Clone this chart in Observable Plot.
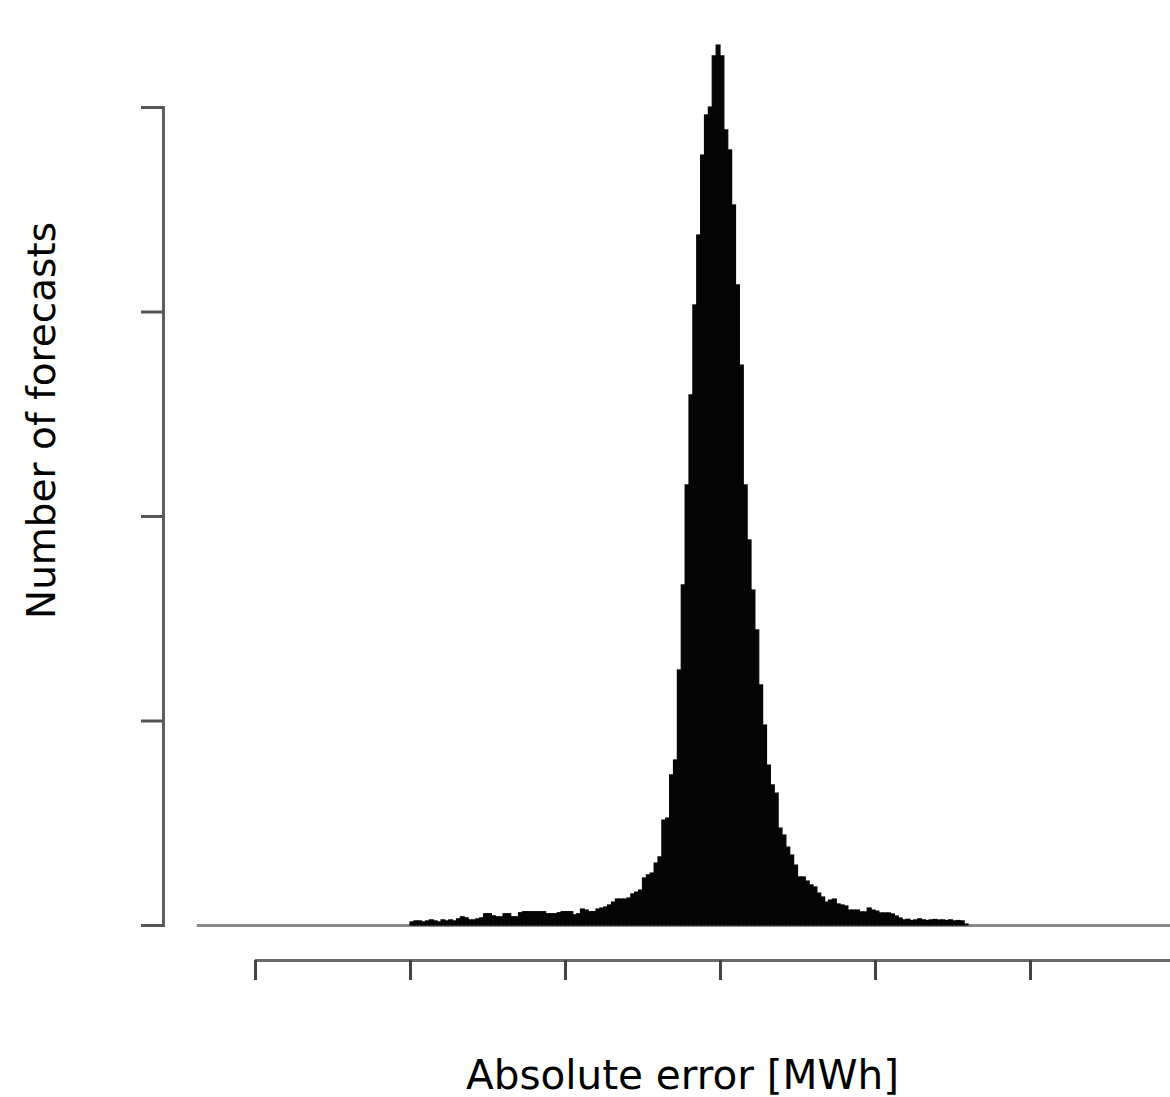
<!DOCTYPE html>
<html><head><meta charset="utf-8">
<script src="https://cdn.jsdelivr.net/npm/d3@7"></script>
<script src="https://cdn.jsdelivr.net/npm/@observablehq/plot@0.6"></script>
<style>body{margin:0;overflow:hidden;background:#fff}</style>
</head><body><div id="chart"></div>
<script>
// Histogram of forecast errors (bins of equal width)
const binStart = -2.0;
const binWidth = 0.025;
const counts = [
  15,20,20,15,20,25,20,15,25,20,25,20,30,
  40,35,25,25,30,35,55,55,45,40,40,55,55,40,40,
  60,65,65,65,65,65,65,55,55,55,60,65,65,65,50,55,
  78,73,65,65,78,83,88,98,112,127,127,127,132,152,161,171,
  230,245,254,303,333,513,523,734,807,
  1247,1663,2152,2592,3032,3374,3765,3961,4000,4250,4303,4250,
  3888,3790,3521,3130,2738,2152,1883,1638,1443,1174,978,782,685,645,
  474,440,381,342,293,235,235,215,196,186,156,137,112,122,127,103,98,93,
  73,73,73,64,64,83,73,68,59,59,59,54,44,34,
  25,28,22,25,30,25,22,25,27,24,25,22,25,20,22,
  20,5
];
const histRange = [-3.375, 3.0];
const xTicks = [-3, -2, -1, 0, 1, 2, 3];
const yTicks = [0, 1000, 2000, 3000, 4000];
const xLabel = "Absolute error [MWh]";
const yLabel = "Number of forecasts";

const bins = counts.map((c, i) => ({
  x1: binStart + i * binWidth,
  x2: binStart + (i + 1) * binWidth,
  count: c
}));

const chart = Plot.plot({
  width: 1170,
  height: 1097,
  marginTop: 107,
  marginBottom: 172,
  marginLeft: 163,
  marginRight: 0,
  x: {domain: [xTicks[0], xTicks[xTicks.length - 1]], range: [255, 1185], axis: null},
  y: {domain: [yTicks[0], yTicks[yTicks.length - 1]], axis: null},
  style: {overflow: "hidden", fontFamily: "'DejaVu Sans', Verdana, sans-serif", background: "white"},
  marks: [
    Plot.ruleY([0], {x1: histRange[0], x2: histRange[1], stroke: "#8a8a8a", strokeWidth: 3}),
    Plot.rectY(bins, {x1: "x1", x2: "x2", y: "count", fill: "#050505", stroke: "#050505", strokeWidth: 1.2}),
    Plot.frame({anchor: "left", stroke: "#5e5e5e", strokeWidth: 3}),
    Plot.axisY({ticks: yTicks, tickSize: 22, tickFormat: () => "", stroke: "#555", strokeWidth: 3, label: null}),
    Plot.ruleY([0], {x1: xTicks[0], x2: xTicks[xTicks.length - 1], dy: 35, stroke: "#6a6a6a", strokeWidth: 3}),
    Plot.axisX({ticks: xTicks, tickSize: 20, tickFormat: () => "", dy: 35, stroke: "#444", strokeWidth: 3, label: null}),
    Plot.text([xLabel], {frameAnchor: "bottom", lineAnchor: "bottom", textAnchor: "middle", dy: 163, dx: 15.5, fontSize: 40.5, fill: "#000"}),
    Plot.text([yLabel], {frameAnchor: "left", textAnchor: "middle", rotate: -90, dx: -121, dy: -96, fontSize: 39, fill: "#000"})
  ]
});
document.getElementById("chart").append(chart);
</script>
</body></html>
